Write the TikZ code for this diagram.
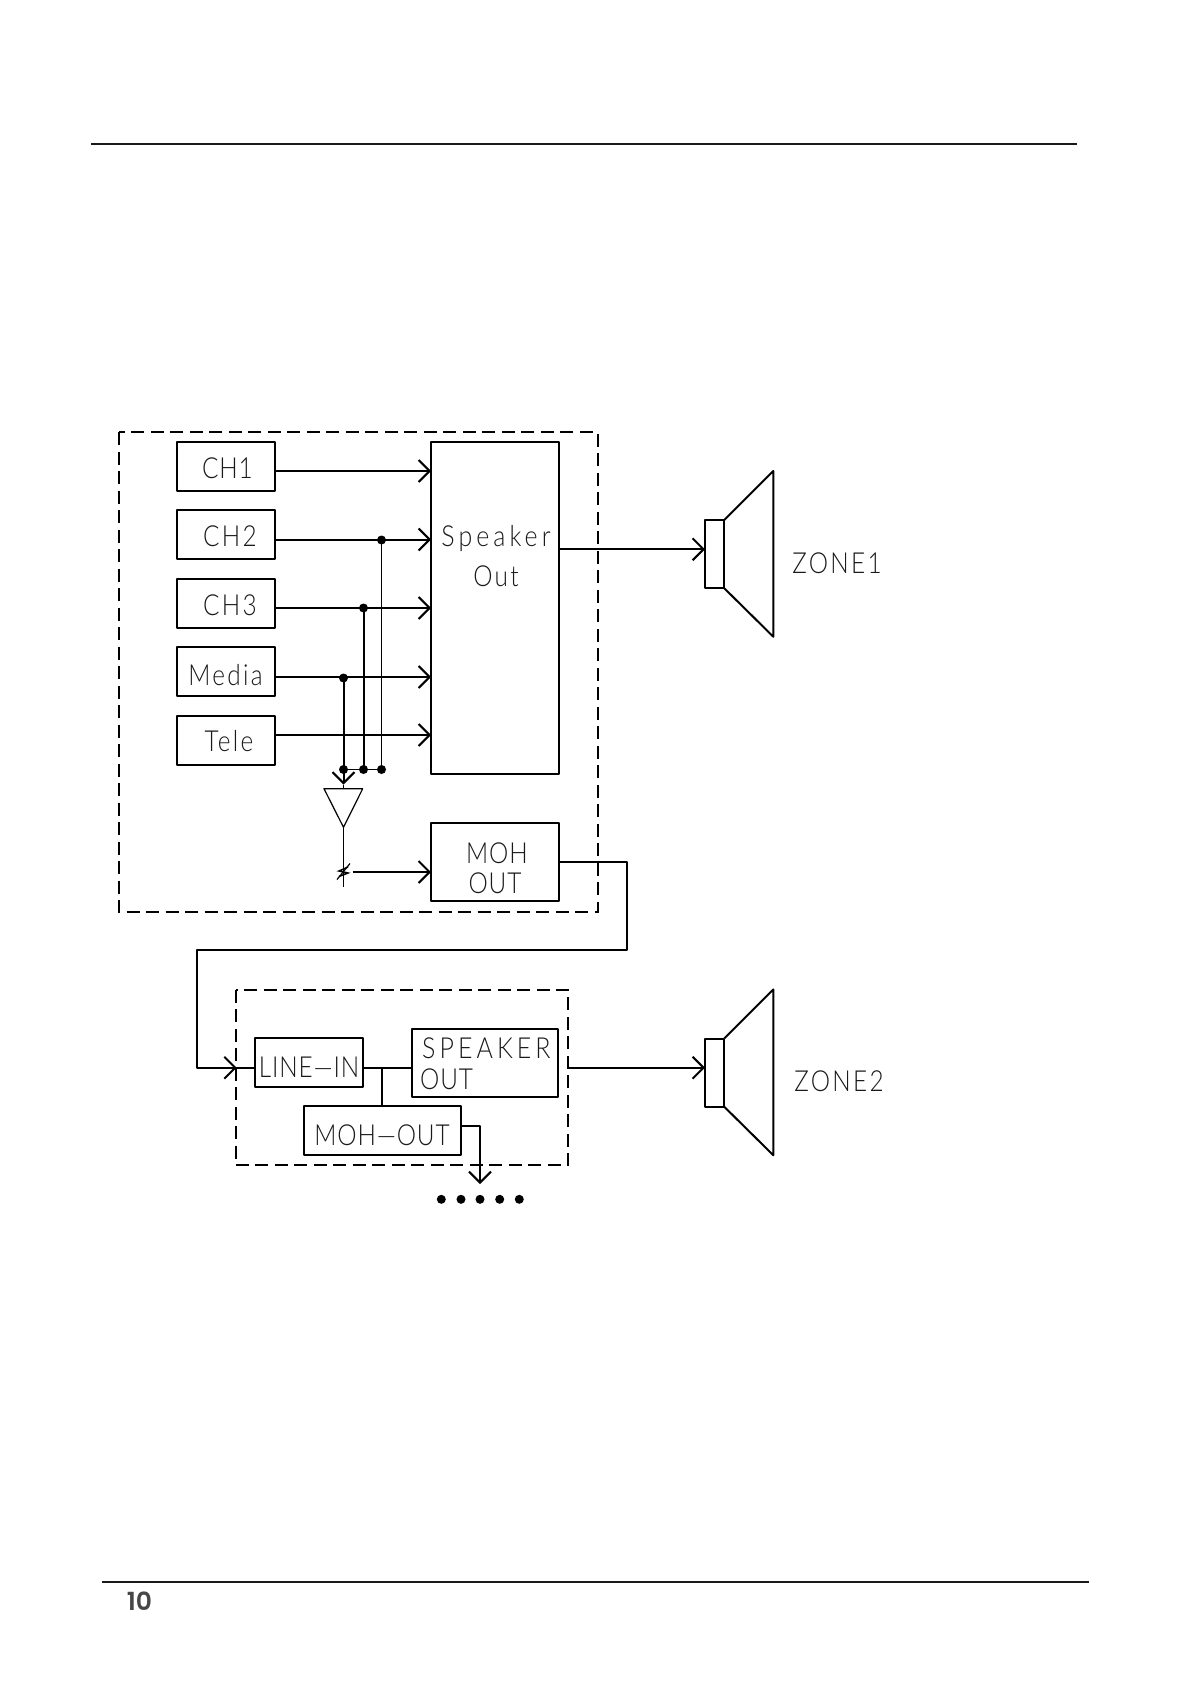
\documentclass[tikz,border=0pt]{standalone}
\usepackage{fontspec}
\usetikzlibrary{arrows.meta}
\newfontfamily\cadfont[LetterSpace=8,FakeStretch=0.84]{Lato Light}
\newfontfamily\cadnarrow[LetterSpace=3,FakeStretch=0.84]{Lato Light}
\newfontfamily\cadwide[LetterSpace=14,FakeStretch=0.86]{Lato Light}
\newfontfamily\pagefont{Poppins SemiBold}
\definecolor{cadtext}{gray}{0.1}
\tikzset{
  blk/.style={draw=black,line width=2pt,rectangle,inner sep=0pt,outer sep=0pt,line join=round},
  wire/.style={draw=black,line width=2pt,line join=round},
  thinwire/.style={draw=black,line width=1.6pt,line join=round},
  arr/.style={wire,-{Straight Barb[length=11pt,width=22pt,line width=2pt]}},
  zone/.style={draw=black,line width=2pt,dash pattern=on 13pt off 6.5pt},
  jct/.style={circle,fill=black,inner sep=0pt,minimum size=9pt},
  lbl/.style={inner sep=0pt,text=cadtext,font=\cadfont\fontsize{29}{29}\selectfont},
  lbln/.style={inner sep=0pt,text=cadtext,font=\cadnarrow\fontsize{29}{29}\selectfont},
  lblw/.style={inner sep=0pt,text=cadtext,font=\cadwide\fontsize{29}{29}\selectfont},
}
\begin{document}
\begin{tikzpicture}[x=1pt,y=-1pt]
\useasboundingbox (0,0) rectangle (1192,1685);
% page rules
\coordinate (ruleA) at (91,144); \coordinate (ruleB) at (1077,144);
\coordinate (ruleC) at (102,1582); \coordinate (ruleD) at (1089,1582);
\draw[line width=2pt,black!90] (ruleA) -- (ruleB);
\draw[line width=2pt,black!90] (ruleC) -- (ruleD);
\node[inner sep=0pt,text=black!72,font=\pagefont\fontsize{25}{25}\selectfont] (pnum) at (139.5,1601.5) {10};
% dashed zones
\draw[zone] (118.5,432) rectangle (597.5,911.5);
\draw[zone] (235.7,989.5) rectangle (568.3,1165);
% input boxes
\node[blk,minimum width=98pt,minimum height=49pt] (ch1) at (226,466.5) {};
\node[blk,minimum width=98pt,minimum height=49pt] (ch2) at (226,534.5) {};
\node[blk,minimum width=98pt,minimum height=49pt] (ch3) at (226,603.5) {};
\node[blk,minimum width=98pt,minimum height=49pt] (media) at (226,671.5) {};
\node[blk,minimum width=98pt,minimum height=49pt] (tele) at (226,740) {};
\node[blk,minimum width=127.5pt,minimum height=332pt] (spk) at (494.75,608) {};
\node[blk,minimum width=127.5pt,minimum height=78.5pt] (moh) at (494.75,862) {};
\node[blk,minimum width=108pt,minimum height=49pt] (linein) at (309,1062.5) {};
\node[blk,minimum width=146.6pt,minimum height=68pt] (spk2) at (485,1062.7) {};
\node[blk,minimum width=156.4pt,minimum height=49pt] (moh2) at (382.5,1130.8) {};
% labels
\node[lbln] (tch1) at (227.5,468) {CH1};
\node[lbl] (tch2) at (230,536.5) {CH2};
\node[lbl] (tch3) at (230,605) {CH3};
\node[lbl] (tmedia) at (225.5,675.5) {Media};
\node[lbl] (ttele) at (229,741.5) {Tele};
\node[lblw] (tspk) at (496,538) {Speaker};
\node[lbl] (tout) at (496,576) {Out};
\node[lbln] (tmoh) at (497,853) {MOH};
\node[lbln] (tmohb) at (495,883) {OUT};
\node[lbln] (tline) at (309,1067) {LINE—IN};
\node[lblw,anchor=west] (tsa) at (422,1048) {SPEAKER};
\node[lbln,anchor=west] (tsb) at (420,1079) {OUT};
\node[lbln] (tmo) at (382,1135) {MOH—OUT};
\node[lbl] (tz1) at (837,563) {ZONE1};
\node[lbl] (tz2) at (839,1081) {ZONE2};
% arrow ends on Speaker Out
\coordinate (a1) at (431,471);
\coordinate (a2) at (431,539.5);
\coordinate (a3) at (431,608);
\coordinate (a4) at (431,677);
\coordinate (a5) at (431,735);
\draw[arr] (ch1.east |- a1) -- (a1);
\draw[arr] (ch2.east |- a2) -- (a2);
\draw[arr] (ch3.east |- a3) -- (a3);
\draw[arr] (media.east |- a4) -- (a4);
\draw[arr] (tele.east |- a5) -- (a5);
% tap junctions
\node[jct] (j2) at (381.5,540) {};
\node[jct] (j3) at (363.5,608) {};
\node[jct] (j4) at (343.5,678) {};
\node[jct] (b2) at (381.5,769.5) {};
\node[jct] (b3) at (363.5,769.5) {};
\node[jct] (b4) at (343.5,769.5) {};
\draw[thinwire] (j2.center) -- (b2.center);
\draw[wire] (j3.center) -- (b3.center);
\draw[wire] (j4.center) -- (b4.center);
\draw[thinwire] (b4.center) -- (b2.center);
% amplifier
\coordinate (ampT) at (343.5,788.7);
\coordinate (ampL) at (324,788.7);
\coordinate (ampR) at (362.7,788.7);
\coordinate (ampA) at (343.5,827.3);
\coordinate (tipA) at (343.5,784.5);
\coordinate (volEnd) at (343.5,886.7);
\draw[arr] (b4.center) -- (tipA);
\draw[thinwire] (tipA) -- (ampT);
\draw[draw=black,line width=1.2pt,line join=round] (ampL) -- (ampR) -- (ampA) -- cycle;
\draw[draw=black,line width=1.3pt] (ampA) -- (volEnd);
% volume control
\coordinate (volA) at (337,879.5);
\coordinate (volB) at (350,863.5);
\coordinate (z1) at (339,876.5);
\coordinate (z2) at (348,873);
\coordinate (z3) at (339,871);
\coordinate (z4) at (348,867);
\draw[draw=black,line width=1.2pt] (volA) -- (volB);
\draw[draw=black,line width=1.5pt,line join=miter] (z1) -- (z2) -- (z3) -- (z4);
\coordinate (volOut) at (352.7,872);
\draw[arr] (volOut) -- (moh.west |- volOut);
% outputs
\coordinate (sp1) at (705,549.3);
\draw[arr] (spk.east |- sp1) -- (sp1);
% link between units
\coordinate (l1) at (558.5,862);
\coordinate (l2) at (627,862);
\coordinate (l3) at (627,950);
\coordinate (l4) at (197,950);
\coordinate (l5) at (197,1067.7);
\coordinate (l6) at (236.7,1067.7);
\draw[wire] (moh.east |- l1) -- (l2) -- (l3) -- (l4) -- (l5) -- (l6);
\draw[arr] (l5) -- (l6);
\draw[wire] (l6) -- (linein.west |- l6);
\draw[wire] (linein.east |- l6) -- (spk2.west |- l6);
\coordinate (tee) at (382.3,1067.7);
\draw[wire] (tee) -- (tee |- moh2.north);
\coordinate (m1) at (480,1125.7);
\coordinate (m2) at (480,1184);
\draw[arr] (moh2.east |- m1) -- (m1) -- (m2);
\coordinate (sp2) at (705,1067.7);
\draw[arr] (568.3,1067.7) -- (sp2);
% trailing dots
\foreach \n/\x in {1/441.3,2/461,3/480,4/499.7,5/519.3}
  \node[jct] (dot\n) at (\x,1199.3) {};
% speakers
\node[blk,minimum width=19.3pt,minimum height=68.3pt] (mag1) at (714.65,554.15) {};
\node[blk,minimum width=19.3pt,minimum height=68.3pt] (mag2) at (714.65,1072.65) {};
\coordinate (c1t) at (773.3,471); \coordinate (c1b) at (773.3,636.7);
\coordinate (c2t) at (773.3,989.5); \coordinate (c2b) at (773.3,1155.2);
\draw[wire] (mag1.north east) -- (c1t) -- (c1b) -- (mag1.south east);
\draw[wire] (mag2.north east) -- (c2t) -- (c2b) -- (mag2.south east);
\end{tikzpicture}
\end{document}
